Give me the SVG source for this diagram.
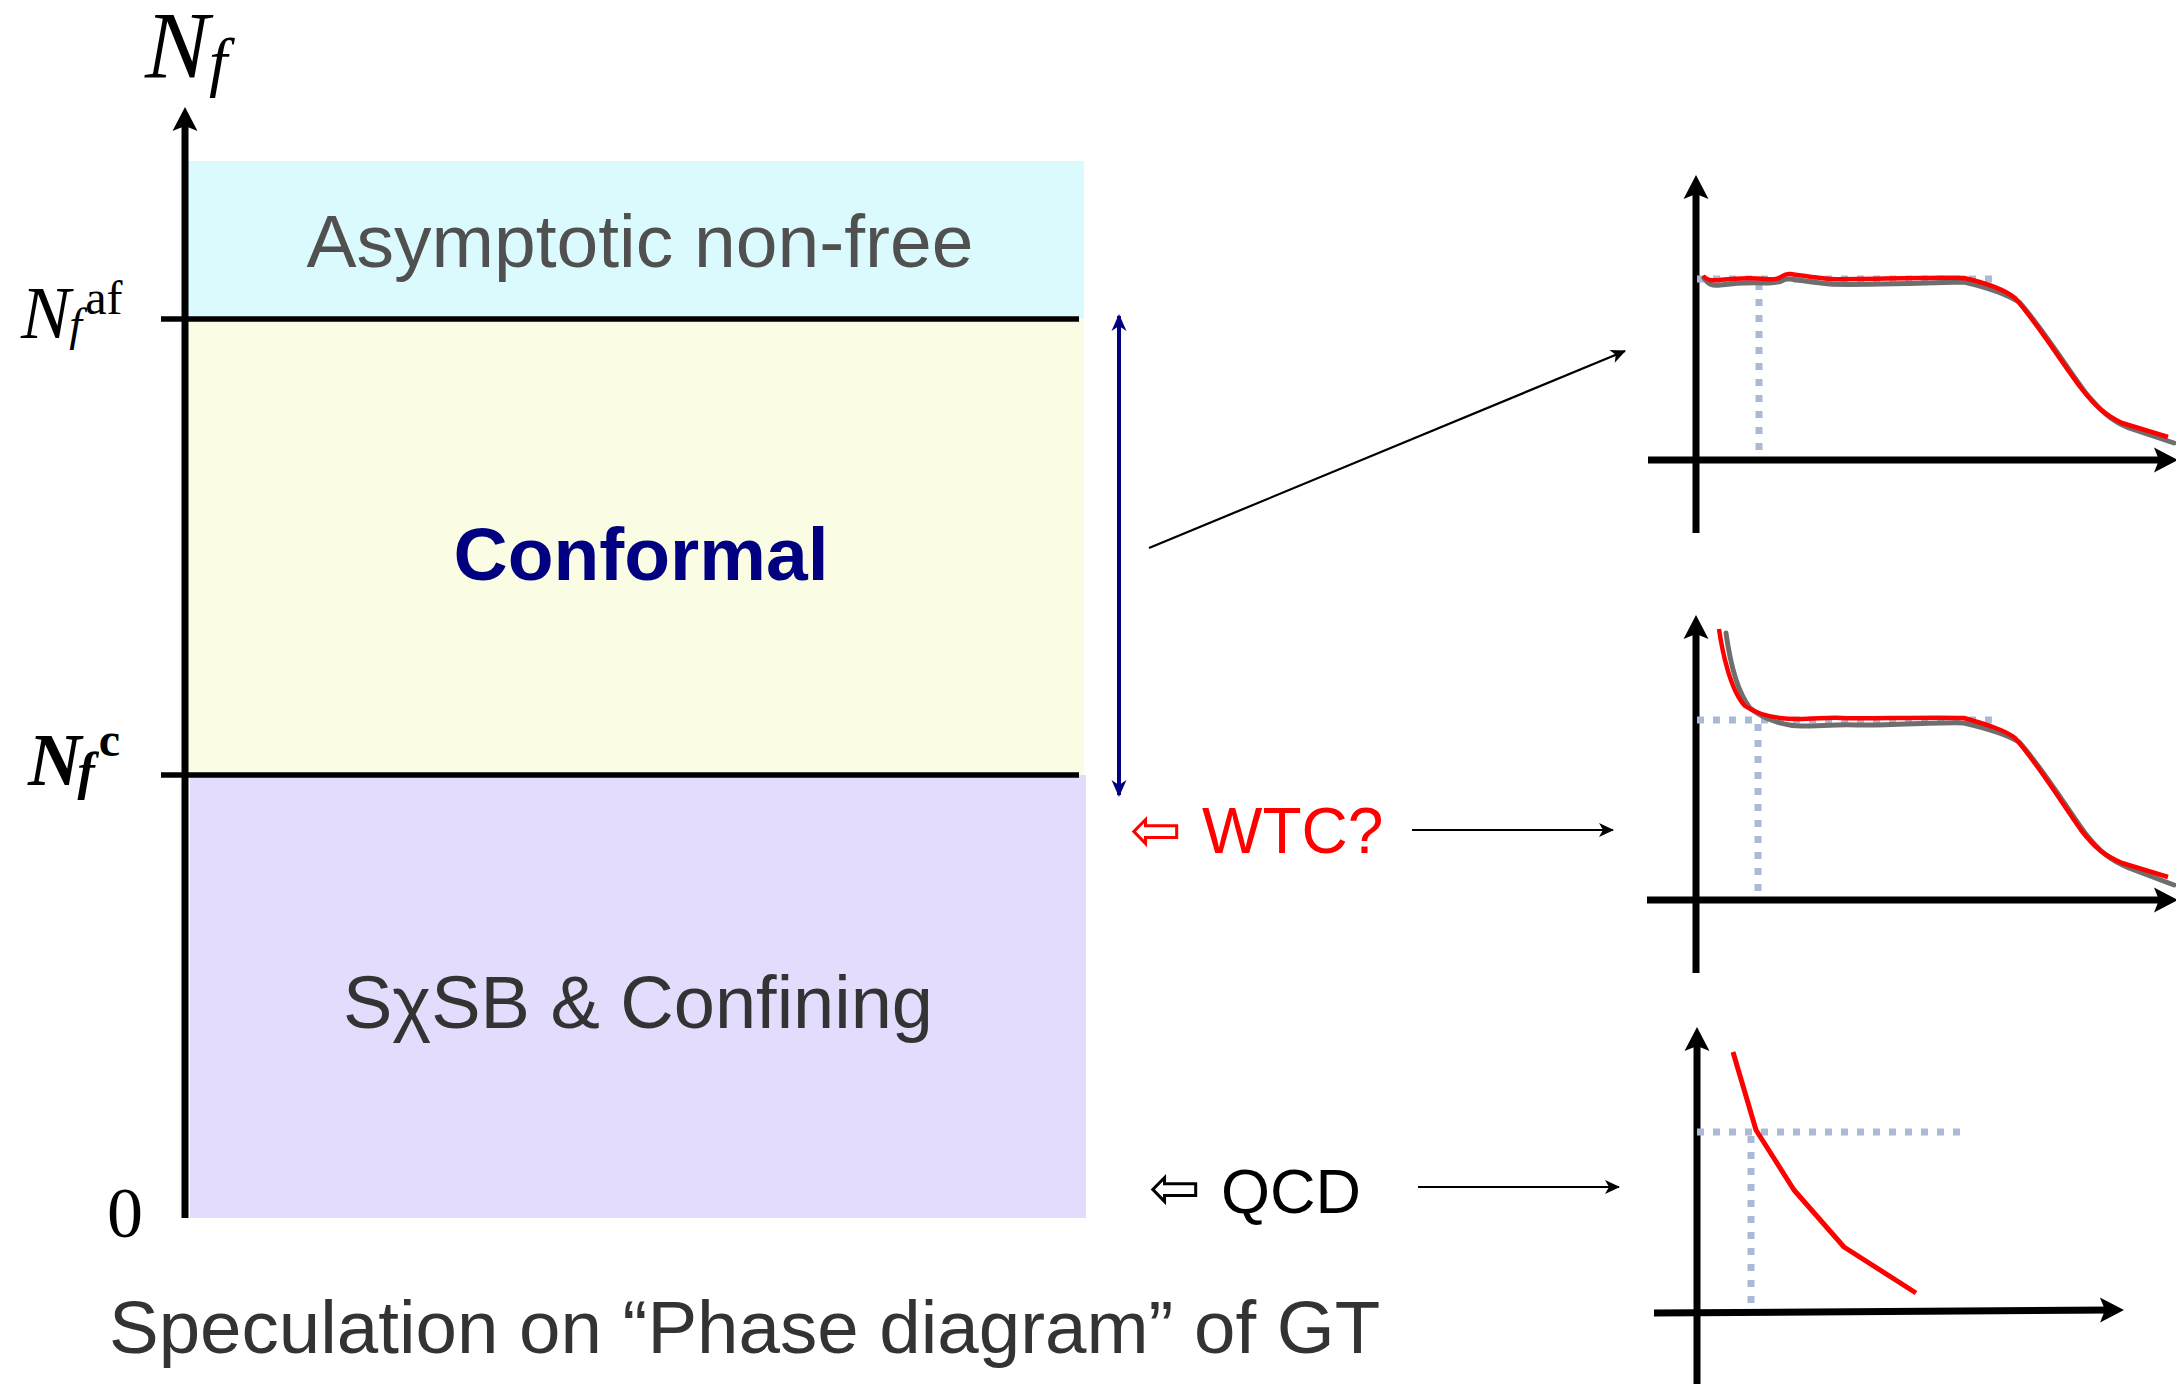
<svg xmlns="http://www.w3.org/2000/svg" width="2176" height="1384" viewBox="0 0 2176 1384">
<style>
.serif{font-family:"Liberation Serif","Times New Roman",serif;}
.sans{font-family:"Liberation Sans",Arial,sans-serif;}
.axis{stroke:#000;stroke-width:7;fill:none;}
.phase{stroke:#000;stroke-width:5.5;}
.dot{stroke:#A9B9D7;stroke-width:7;stroke-dasharray:7 9;fill:none;}
.gray{stroke:#6E6E6E;stroke-width:5;fill:none;stroke-linejoin:round;stroke-linecap:round;}
.red{stroke:#FF0000;stroke-width:4.5;fill:none;stroke-linejoin:round;}
.thin{stroke:#000;stroke-width:2.2;fill:none;}
.sym{font-family:"DejaVu Sans",sans-serif;}
</style>
<defs>
<marker id="big" markerUnits="userSpaceOnUse" orient="auto" refX="0" refY="0" markerWidth="40" markerHeight="40" style="overflow:visible">
<path d="M12,0 L-12,-12.5 L-7,0 L-12,12.5 Z" fill="#000"/>
</marker>
<marker id="sm" markerUnits="userSpaceOnUse" orient="auto" refX="0" refY="0" markerWidth="20" markerHeight="20" style="overflow:visible">
<path d="M1,0 L-14,-7 L-10,0 L-14,7 Z" fill="#000"/>
</marker>
<marker id="blue" markerUnits="userSpaceOnUse" orient="auto-start-reverse" refX="0" refY="0" markerWidth="20" markerHeight="20" style="overflow:visible">
<path d="M2,0 L-15,-7.5 L-10,0 L-15,7.5 Z" fill="#000080"/>
</marker>
</defs>
<rect width="2176" height="1384" fill="#FFFFFF"/>

<g id="phase-asymptotic">
<rect x="187" y="161" width="897" height="158" fill="#DAFAFD"/>
<text class="sans" x="640" y="267" font-size="75" fill="#505050" text-anchor="middle">Asymptotic non-free</text>
</g>
<g id="phase-conformal">
<rect x="187" y="319" width="897" height="456" fill="#FAFDE4"/>
<text class="sans" x="641" y="580" font-size="75" font-weight="bold" fill="#000080" text-anchor="middle">Conformal</text>
</g>
<g id="phase-sxsb">
<rect x="190" y="775" width="896" height="443" fill="#E3DCFC"/>
<text class="sans" x="638" y="1028" font-size="74" fill="#333333" text-anchor="middle">SχSB &amp; Confining</text>
</g>

<g id="nf-axis">
<line class="axis" x1="185" y1="1218" x2="185" y2="119" marker-end="url(#big)"/>
<line class="phase" x1="161" y1="319" x2="1079" y2="319"/>
<line class="phase" x1="161" y1="775" x2="1079" y2="775"/>
<text class="serif" x="145" y="78" font-size="96" font-style="italic">N<tspan font-size="66" dy="6">f</tspan></text>
<text class="serif" x="21" y="338" font-size="74" font-style="italic">N<tspan font-size="46" dy="2" dx="-1">f</tspan><tspan font-size="48" font-style="normal" dy="-26" dx="3">af</tspan></text>
<text class="serif" x="28" y="785" font-size="74" font-style="italic" font-weight="bold">N<tspan font-size="52" dy="4" dx="-4">f</tspan><tspan font-size="48" font-style="normal" dy="-33" dx="4">c</tspan></text>
<text class="serif" x="107" y="1237" font-size="72">0</text>
</g>

<g id="label-wtc">
<text class="sym" x="1130" y="851" font-size="62" fill="#FF0000">⇦</text>
<text class="sans" x="1202" y="853" font-size="64" fill="#FF0000">WTC?</text>
</g>
<g id="label-qcd">
<text class="sym" x="1149" y="1209" font-size="62" fill="#000">⇦</text>
<text class="sans" x="1221" y="1213" font-size="63" fill="#000">QCD</text>
</g>

<g id="caption">
<text class="sans" x="109" y="1353" font-size="74.5" fill="#333333">Speculation on “Phase diagram” of GT</text>
</g>

<g id="chart-conformal">
<line class="axis" x1="1696" y1="533" x2="1696" y2="187" marker-end="url(#big)"/>
<line class="axis" x1="1648" y1="460" x2="2166" y2="460" marker-end="url(#big)"/>
<line class="dot" x1="1697" y1="279" x2="1992" y2="279"/>
<line class="dot" x1="1759" y1="283" x2="1759" y2="457"/>
<path class="gray" d="M1704,278 C1708,284 1712,286 1720,285 S1745,282 1765,283 S1780,278 1790,279 S1815,283 1830,284 S1930,283 1964,282 C1990,288 2008,295 2019,302 C2040,325 2065,365 2085,392 C2100,410 2110,420 2129,428 L2174,443"/>
<path class="red" d="M1703,276 C1707,280 1711,281 1720,280 S1745,277 1765,279 S1780,273 1790,274 S1815,278 1830,279 S1930,277 1964,278 C1986,283 2005,290 2015,298 C2035,320 2060,360 2081,388 C2095,406 2105,415 2122,423 L2168,437"/>
</g>

<g id="chart-wtc">
<line class="axis" x1="1696" y1="973" x2="1696" y2="627" marker-end="url(#big)"/>
<line class="axis" x1="1647" y1="900" x2="2166" y2="900" marker-end="url(#big)"/>
<line class="dot" x1="1697" y1="720" x2="1992" y2="720"/>
<line class="dot" x1="1758" y1="724" x2="1758" y2="895"/>
<path class="gray" d="M1726,633 C1729,655 1736,690 1750,708 C1765,720 1785,726 1802,726 S1840,724 1857,725 S1940,722 1964,723 C1990,729 2008,735 2019,742 C2040,765 2065,805 2085,833 C2100,852 2110,860 2129,868 L2174,885"/>
<path class="red" d="M1719,629 C1722,650 1730,690 1745,706 C1760,716 1780,719 1798,719 S1830,717 1842,718 S1930,717 1964,718 C1985,724 2005,730 2015,738 C2035,760 2060,800 2081,830 C2095,848 2105,856 2122,863 L2168,877"/>
</g>

<g id="chart-qcd">
<line class="axis" x1="1697" y1="1384" x2="1697" y2="1039" marker-end="url(#big)"/>
<line class="axis" x1="1654" y1="1313" x2="2112" y2="1310" marker-end="url(#big)"/>
<line class="dot" x1="1697" y1="1132" x2="1960" y2="1132"/>
<line class="dot" x1="1751" y1="1136" x2="1751" y2="1308"/>
<polyline class="red" points="1733,1052 1756,1130 1794,1190 1844,1247 1916,1293" style="stroke-width:5"/>
</g>

<g id="connectors">
<line x1="1119" y1="316" x2="1119" y2="795" stroke="#000080" stroke-width="4" marker-start="url(#blue)" marker-end="url(#blue)"/>
<line class="thin" x1="1149" y1="548" x2="1625" y2="351" marker-end="url(#sm)"/>
<line class="thin" x1="1412" y1="830" x2="1613" y2="830" marker-end="url(#sm)"/>
<line class="thin" x1="1418" y1="1187" x2="1619" y2="1187" marker-end="url(#sm)"/>
</g>
</svg>
